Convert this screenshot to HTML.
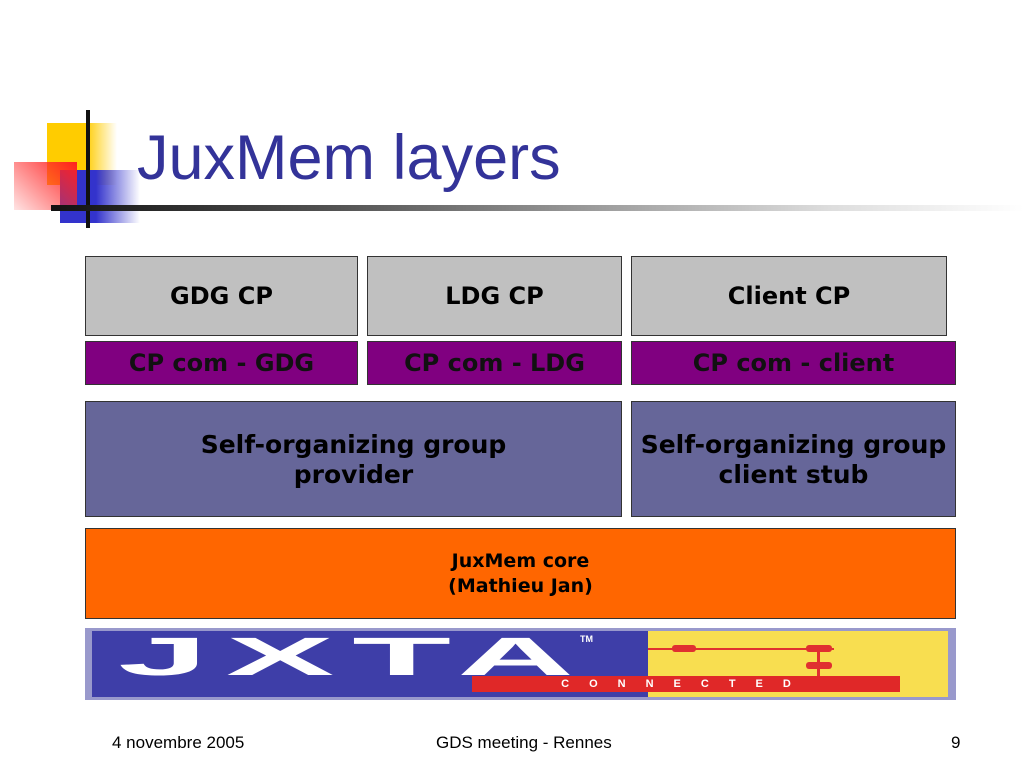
<!DOCTYPE html>
<html><head><style>
body{margin:0;width:1024px;height:768px;background:#fff;position:relative;overflow:hidden;font-family:"Liberation Sans",sans-serif}
.a{position:absolute}
.b{position:absolute;box-sizing:border-box;border:1px solid #333;display:flex;align-items:center;justify-content:center;text-align:center;font-weight:bold;color:#000;font-family:"DejaVu Sans",sans-serif}
.g{background:#c0c0c0;font-size:24px}
.p{background:#800080;font-size:24px;color:#111}
.s{background:#666699;font-size:25px;line-height:30px}
</style></head><body>
<div class="a" style="left:47px;top:123px;width:70px;height:62px;background:linear-gradient(90deg,#ffcc00 55%,rgba(255,204,0,0))"></div>
<div class="a" style="left:60px;top:170px;width:80px;height:53px;background:linear-gradient(90deg,#3333cc 45%,rgba(51,51,204,0))"></div>
<div class="a" style="left:14px;top:162px;width:63px;height:48px;background:linear-gradient(225deg,#ff2020,rgba(255,120,120,0.2))"></div>
<div class="a" style="left:86px;top:110px;width:4px;height:118px;background:#111"></div>
<div class="a" style="left:51px;top:205px;width:973px;height:6px;background:linear-gradient(90deg,#111,#555 30%,#ddd 80%,#fff)"></div>
<div class="a" style="left:137px;top:122px;font-size:63px;color:#333399;line-height:72px">JuxMem layers</div>

<div class="b g" style="left:85px;top:256px;width:273px;height:80px">GDG CP</div>
<div class="b g" style="left:367px;top:256px;width:255px;height:80px">LDG CP</div>
<div class="b g" style="left:631px;top:256px;width:316px;height:80px">Client CP</div>
<div class="b p" style="left:85px;top:341px;width:273px;height:44px">CP com - GDG</div>
<div class="b p" style="left:367px;top:341px;width:255px;height:44px">CP com - LDG</div>
<div class="b p" style="left:631px;top:341px;width:325px;height:44px">CP com - client</div>
<div class="b s" style="left:85px;top:401px;width:537px;height:116px;align-items:flex-start;padding-top:28px">Self-organizing group<br>provider</div>
<div class="b s" style="left:631px;top:401px;width:325px;height:116px;align-items:flex-start;padding-top:28px">Self-organizing group<br>client stub</div>
<div class="b" style="left:85px;top:528px;width:871px;height:91px;background:#ff6600;font-size:19px;line-height:25px">JuxMem core<br>(Mathieu Jan)</div>

<div class="a" style="left:85px;top:628px;width:871px;height:72px;background:#9999cc"></div>
<div class="a" style="left:92px;top:631px;width:556px;height:66px;background:#3e3ea8"></div>
<div class="a" style="left:648px;top:631px;width:300px;height:66px;background:#f8de50"></div>
<div class="a" style="left:118px;top:630px;font-size:54px;font-weight:bold;color:#fff;letter-spacing:6px;transform:scaleX(3.0);transform-origin:0 0;line-height:54px">JXTA</div>
<div class="a" style="left:580px;top:634px;font-size:9px;color:#fff;font-weight:bold">TM</div>
<div class="a" style="left:648px;top:648px;width:186px;height:2px;background:#e03030"></div>
<div class="a" style="left:672px;top:645px;width:24px;height:7px;background:#e03030;border-radius:3px"></div>
<div class="a" style="left:806px;top:645px;width:26px;height:7px;background:#e03030;border-radius:3px"></div>
<div class="a" style="left:806px;top:662px;width:26px;height:7px;background:#e03030;border-radius:3px"></div>
<div class="a" style="left:817px;top:648px;width:3px;height:30px;background:#e03030"></div>
<div class="a" style="left:472px;top:676px;width:428px;height:16px;background:#e02828;color:#fff;font-size:11px;font-weight:bold;letter-spacing:20px;text-align:center;line-height:16px">CONNECTED</div>

<div class="a" style="left:112px;top:733px;font-size:17px">4 novembre 2005</div>
<div class="a" style="left:436px;top:733px;font-size:17px">GDS meeting - Rennes</div>
<div class="a" style="left:951px;top:733px;font-size:17px">9</div>
</body></html>
